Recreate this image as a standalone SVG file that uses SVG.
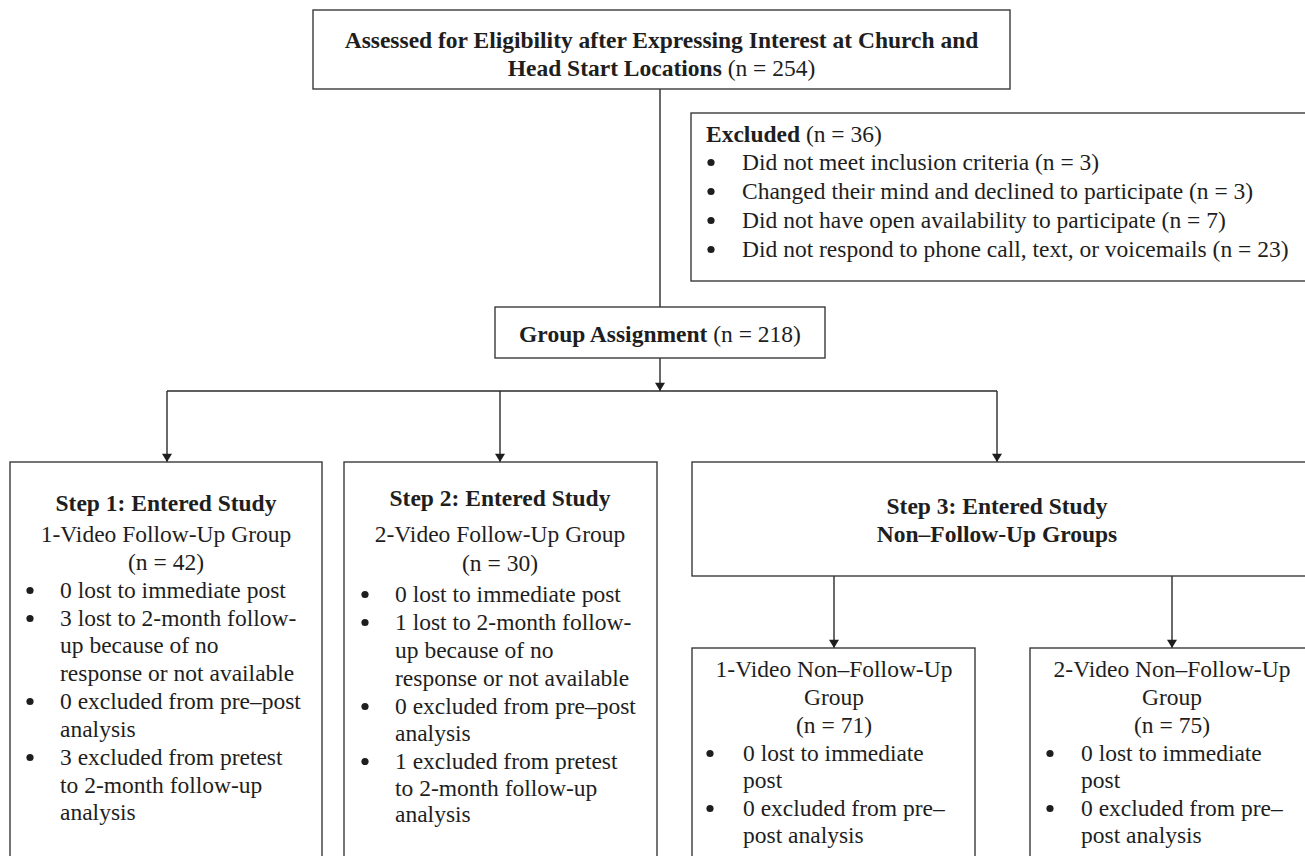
<svg xmlns="http://www.w3.org/2000/svg" width="1305" height="856" viewBox="0 0 1305 856">
<defs>
<style>
.box{fill:#fff;stroke:#3a3a3a;stroke-width:1.4}
.ln{fill:none;stroke:#2a2a2a;stroke-width:1.4}
.dot{fill:#1e1e1e}
text{font-family:"Liberation Serif","Times New Roman",serif;font-size:23.5px;fill:#1e1e1e}
.b{font-weight:bold}
.c{text-anchor:middle}
</style>
<marker id="ah" viewBox="0 0 10 12" refX="10" refY="6" markerWidth="12" markerHeight="10" markerUnits="userSpaceOnUse" orient="auto">
<path d="M0,0 L10,6 L0,12 z" fill="#1e1e1e"/>
</marker>
</defs>
<rect width="1305" height="856" fill="#fff"/>

<g id="connectors">
<line class="ln" x1="660" y1="89" x2="660" y2="307"/>
<line class="ln" x1="660" y1="358" x2="660" y2="391" marker-end="url(#ah)"/>
<line class="ln" x1="167" y1="391" x2="997" y2="391"/>
<line class="ln" x1="167" y1="391" x2="167" y2="462" marker-end="url(#ah)"/>
<line class="ln" x1="500" y1="391" x2="500" y2="462" marker-end="url(#ah)"/>
<line class="ln" x1="997" y1="391" x2="997" y2="462" marker-end="url(#ah)"/>
<line class="ln" x1="834" y1="576" x2="834" y2="648" marker-end="url(#ah)"/>
<line class="ln" x1="1172" y1="576" x2="1172" y2="648" marker-end="url(#ah)"/>
</g>

<g id="assessed">
<rect class="box" x="313" y="10" width="697" height="79"/>
<text class="c b" x="661.5" y="48">Assessed for Eligibility after Expressing Interest at Church and</text>
<text class="c" x="661.5" y="76"><tspan class="b">Head Start Locations</tspan> (n = 254)</text>
</g>

<g id="excluded">
<rect class="box" x="691" y="113" width="640" height="168"/>
<text x="706" y="142"><tspan class="b">Excluded</tspan> (n = 36)</text>
<circle class="dot" cx="711" cy="162.5" r="3.6"/><text x="742" y="170">Did not meet inclusion criteria (n = 3)</text>
<circle class="dot" cx="711" cy="191.5" r="3.6"/><text x="742" y="199">Changed their mind and declined to participate (n = 3)</text>
<circle class="dot" cx="711" cy="220.5" r="3.6"/><text x="742" y="228">Did not have open availability to participate (n = 7)</text>
<circle class="dot" cx="711" cy="249.5" r="3.6"/><text x="742" y="257">Did not respond to phone call, text, or voicemails (n = 23)</text>
</g>

<g id="assignment">
<rect class="box" x="495" y="307" width="330" height="51"/>
<text class="c" x="660" y="342"><tspan class="b">Group Assignment</tspan> (n = 218)</text>
</g>

<g id="step1">
<rect class="box" x="10" y="462" width="312" height="420"/>
<text class="c b" x="166" y="511">Step 1: Entered Study</text>
<text class="c" x="166" y="542">1-Video Follow-Up Group</text>
<text class="c" x="166" y="570">(n = 42)</text>
<circle class="dot" cx="30" cy="590.5" r="3.6"/><text x="60" y="598">0 lost to immediate post</text>
<circle class="dot" cx="30" cy="618.5" r="3.6"/><text x="60" y="626">3 lost to 2-month follow-</text>
<text x="60" y="653">up because of no</text>
<text x="60" y="681">response or not available</text>
<circle class="dot" cx="30" cy="701.5" r="3.6"/><text x="60" y="709">0 excluded from pre–post</text>
<text x="60" y="737">analysis</text>
<circle class="dot" cx="30" cy="757.5" r="3.6"/><text x="60" y="765">3 excluded from pretest</text>
<text x="60" y="793">to 2-month follow-up</text>
<text x="60" y="820">analysis</text>
</g>

<g id="step2">
<rect class="box" x="344" y="462" width="313" height="420"/>
<text class="c b" x="500" y="506">Step 2: Entered Study</text>
<text class="c" x="500" y="542">2-Video Follow-Up Group</text>
<text class="c" x="500" y="571">(n = 30)</text>
<circle class="dot" cx="365" cy="594.5" r="3.6"/><text x="395" y="602">0 lost to immediate post</text>
<circle class="dot" cx="365" cy="622.5" r="3.6"/><text x="395" y="630">1 lost to 2-month follow-</text>
<text x="395" y="658">up because of no</text>
<text x="395" y="686">response or not available</text>
<circle class="dot" cx="365" cy="706.5" r="3.6"/><text x="395" y="714">0 excluded from pre–post</text>
<text x="395" y="741">analysis</text>
<circle class="dot" cx="365" cy="761.5" r="3.6"/><text x="395" y="769">1 excluded from pretest</text>
<text x="395" y="796">to 2-month follow-up</text>
<text x="395" y="822">analysis</text>
</g>

<g id="step3">
<rect class="box" x="692" y="462" width="630" height="114"/>
<text class="c b" x="997" y="514">Step 3: Entered Study</text>
<text class="c b" x="997" y="542">Non–Follow-Up Groups</text>
</g>

<g id="nonfollow1">
<rect class="box" x="692" y="648" width="283" height="230"/>
<text class="c" x="834" y="677">1-Video Non–Follow-Up</text>
<text class="c" x="834" y="705">Group</text>
<text class="c" x="834" y="733">(n = 71)</text>
<circle class="dot" cx="710" cy="753.5" r="3.6"/><text x="743" y="761">0 lost to immediate</text>
<text x="743" y="788">post</text>
<circle class="dot" cx="710" cy="808.5" r="3.6"/><text x="743" y="816">0 excluded from pre–</text>
<text x="743" y="843">post analysis</text>
</g>

<g id="nonfollow2">
<rect class="box" x="1030" y="648" width="300" height="230"/>
<text class="c" x="1172" y="677">2-Video Non–Follow-Up</text>
<text class="c" x="1172" y="705">Group</text>
<text class="c" x="1172" y="733">(n = 75)</text>
<circle class="dot" cx="1050" cy="753.5" r="3.6"/><text x="1081" y="761">0 lost to immediate</text>
<text x="1081" y="788">post</text>
<circle class="dot" cx="1050" cy="808.5" r="3.6"/><text x="1081" y="816">0 excluded from pre–</text>
<text x="1081" y="843">post analysis</text>
</g>
</svg>
